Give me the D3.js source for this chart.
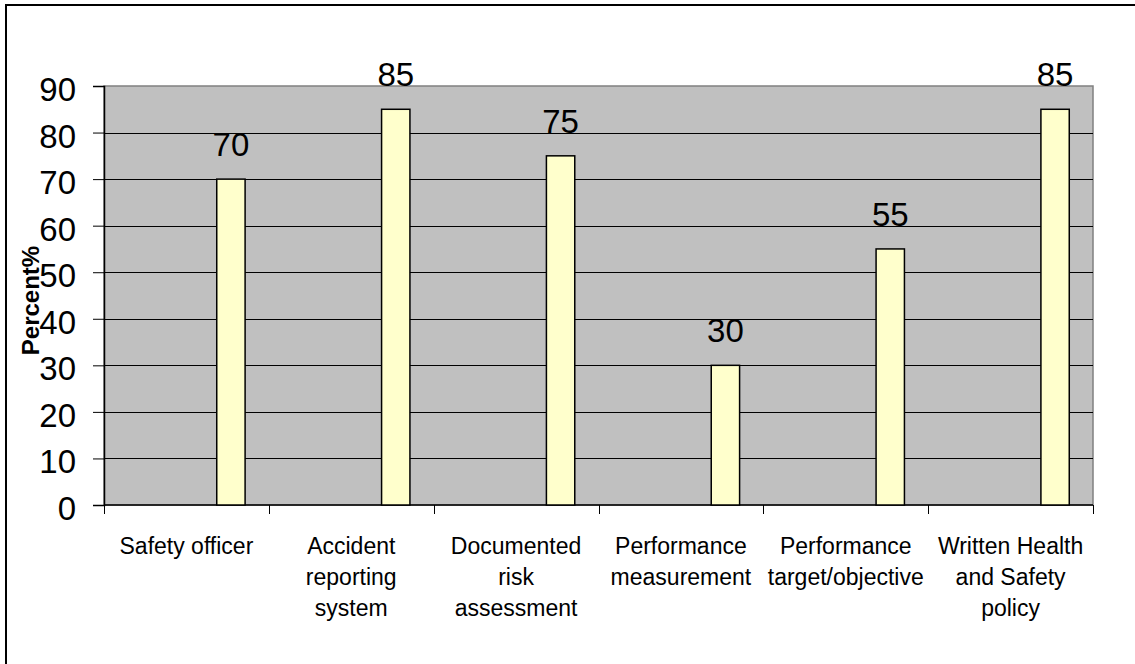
<!DOCTYPE html>
<html>
<head>
<meta charset="utf-8">
<script src="https://cdn.jsdelivr.net/npm/d3@7"></script>
<style>
  html, body { margin: 0; padding: 0; background: #fff; }
  svg { display: block; font-family: "Liberation Sans", Arial, sans-serif; }
</style>
</head>
<body>
<div class="js-d3"></div>
<script>
const categories = [
  "Safety officer",
  "Accident reporting system",
  "Documented risk assessment",
  "Performance measurement",
  "Performance target/objective",
  "Written Health and Safety policy"
];
const categoryLines = [
  ["Safety officer"],
  ["Accident", "reporting", "system"],
  ["Documented", "risk", "assessment"],
  ["Performance", "measurement"],
  ["Performance", "target/objective"],
  ["Written Health", "and Safety", "policy"]
];
const values = [70, 85, 75, 30, 55, 85];
const yTicks = [0, 10, 20, 30, 40, 50, 60, 70, 80, 90];
const yTitle = "Percent%";

const W = 1135;
const H = 664;
const plot = { left: 104, right: 1093, top: 86, bottom: 505 };

const svg = d3
  .select(".js-d3")
  .append("svg")
  .attr("width", W)
  .attr("height", H);

// outer chart border (cropped on right / bottom)
svg
  .append("rect")
  .attr("x", 6)
  .attr("y", 5)
  .attr("width", W + 20)
  .attr("height", H + 20)
  .attr("fill", "#fff")
  .attr("stroke", "#000")
  .attr("stroke-width", 2);

const x = d3
  .scaleBand()
  .domain(categories)
  .range([plot.left, plot.right])
  .padding(0);

const y = d3.scaleLinear().domain([0, 90]).range([plot.bottom, plot.top]);

// plot area
svg
  .append("rect")
  .attr("x", plot.left)
  .attr("y", plot.top)
  .attr("width", plot.right - plot.left)
  .attr("height", plot.bottom - plot.top)
  .attr("fill", "#c0c0c0")
  .attr("stroke", "#808080")
  .attr("stroke-width", 1.5);

// gridlines
svg
  .append("g")
  .selectAll("line")
  .data(yTicks.filter((t) => t > 0 && t < 90))
  .enter()
  .append("line")
  .attr("x1", plot.left)
  .attr("x2", plot.right)
  .attr("y1", (d) => Math.round(y(d)) + 0.5)
  .attr("y2", (d) => Math.round(y(d)) + 0.5)
  .attr("stroke", "#000")
  .attr("stroke-width", 1);

// y axis
const yAxis = svg
  .append("g")
  .attr("transform", `translate(${plot.left}, 0)`)
  .call(d3.axisLeft(y).tickValues(yTicks).tickSize(11).tickPadding(17));
yAxis.select(".domain").attr("stroke", "#000").attr("stroke-width", 1.5);
yAxis.selectAll(".tick line").attr("stroke", "#000");
yAxis
  .selectAll(".tick text")
  .attr("font-size", 33)
  .attr("font-family", "Liberation Sans, Arial, sans-serif")
  .attr("fill", "#000")
  .attr("dy", "0.44em");

// x axis
const xAxis = svg.append("g");
xAxis
  .append("line")
  .attr("x1", plot.left)
  .attr("x2", plot.right)
  .attr("y1", plot.bottom)
  .attr("y2", plot.bottom)
  .attr("stroke", "#000")
  .attr("stroke-width", 1.5);
xAxis
  .selectAll("line.xtick")
  .data(categories.map((c) => x(c)).concat([plot.right]))
  .enter()
  .append("line")
  .attr("class", "xtick")
  .attr("x1", (d) => Math.round(d) + 0.5)
  .attr("x2", (d) => Math.round(d) + 0.5)
  .attr("y1", plot.bottom)
  .attr("y2", plot.bottom + 9)
  .attr("stroke", "#000");

const catLabel = xAxis
  .selectAll("text.cat")
  .data(categories)
  .enter()
  .append("text")
  .attr("class", "cat")
  .attr("font-size", 23)
  .attr("text-anchor", "middle")
  .attr("fill", "#000");
catLabel
  .selectAll("tspan")
  .data((d, i) => categoryLines[i].map((line) => ({ line, c: d })))
  .enter()
  .append("tspan")
  .attr("x", (d) => x(d.c) + x.bandwidth() / 2)
  .attr("y", (d, i) => 554 + i * 31)
  .text((d) => d.line);

// bars (offset inside the band like the original)
const bw = x.bandwidth();
svg
  .append("g")
  .selectAll("rect")
  .data(values)
  .enter()
  .append("rect")
  .attr("x", (d, i) => x(categories[i]) + bw * 0.684)
  .attr("y", (d) => y(d))
  .attr("width", bw * 0.172)
  .attr("height", (d) => y(0) - y(d))
  .attr("fill", "#ffffcc")
  .attr("stroke", "#000")
  .attr("stroke-width", 1.5);

// value labels
svg
  .append("g")
  .selectAll("text")
  .data(values)
  .enter()
  .append("text")
  .attr("x", (d, i) => x(categories[i]) + bw * 0.77)
  .attr("y", (d) => y(d) - 23)
  .attr("text-anchor", "middle")
  .attr("font-size", 33)
  .attr("fill", "#000")
  .text((d) => d);

// y title
svg
  .append("text")
  .attr("transform", `translate(39, ${(plot.top + plot.bottom) / 2 + 5}) rotate(-90)`)
  .attr("text-anchor", "middle")
  .attr("font-size", 24)
  .attr("font-weight", "bold")
  .attr("fill", "#000")
  .text(yTitle);
</script>
</body>
</html>
